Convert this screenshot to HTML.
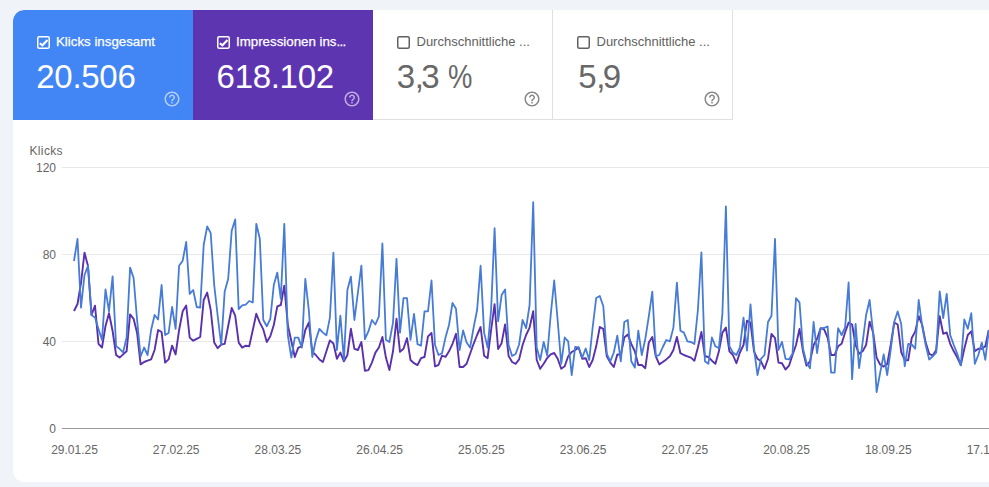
<!DOCTYPE html>
<html><head><meta charset="utf-8">
<style>
*{box-sizing:border-box;margin:0;padding:0}
html,body{width:989px;height:487px;overflow:hidden;background:#f0f3f8;font-family:"Liberation Sans",sans-serif}
.card{position:absolute;left:13px;top:10px;width:1000px;height:472px;background:#fff;border-radius:11px;overflow:hidden}
.tile{position:absolute;top:0;width:180px;height:110px}
.t1{left:0;background:#4285f4;color:#fff;border-top-left-radius:11px}
.t1 .num{left:23.3px;letter-spacing:-0.3px}
.t2 .num{left:23.6px;letter-spacing:-0.3px}
.t1 .lbl,.t2 .lbl{-webkit-text-stroke:0.25px #fff}
.t2{left:180px;background:#5e35b1;color:#fff}
.t3 .lbl,.t4 .lbl{left:43.5px;font-size:13px}
.t3 .num,.t4 .num{left:25.3px;color:#686868;letter-spacing:-0.5px}
.t3 .num{left:23.8px}
.t3{left:360px;border-right:1px solid #e0e0e0;border-bottom:1px solid #e0e0e0;color:#616161}
.t4{left:540px;border-right:1px solid #e0e0e0;border-bottom:1px solid #e0e0e0;color:#616161}
.cb{position:absolute;left:24px;top:26px;width:13px;height:13px}
.lbl{position:absolute;left:43px;top:24px;font-size:13.3px;line-height:16px;white-space:nowrap}
.num{position:absolute;left:23px;top:47px;font-size:33px;line-height:40px;white-space:nowrap}
.cm{letter-spacing:-2.5px}
.pc{display:inline-block;transform:scaleX(0.83);transform-origin:0 0}
.help{position:absolute;left:150px;top:80px;width:18px;height:18px}
svg.chart{position:absolute;left:0;top:0}
.ax{font-size:12px;fill:#666}
</style></head><body>
<div class="card">
  <div class="tile t1">
    <svg class="cb" viewBox="0 0 13 13"><rect x="0.75" y="0.75" width="11.5" height="11.5" rx="1.5" fill="none" stroke="currentColor" stroke-width="1.5"/><path d="M2.8 7.2 L5.4 9.3 L10.5 4" fill="none" stroke="currentColor" stroke-width="2.1"/></svg>
    <div class="lbl">Klicks insgesamt</div>
    <div class="num">20.506</div>
    <svg class="help" viewBox="0 0 24 24"><path fill="rgba(255,255,255,0.6)" d="M11 18h2v-2h-2v2zm1-16C6.48 2 2 6.48 2 12s4.48 10 10 10 10-4.48 10-10S17.52 2 12 2zm0 18c-4.41 0-8-3.59-8-8s3.59-8 8-8 8 3.59 8 8-3.59 8-8 8zm0-14c-2.21 0-4 1.79-4 4h2c0-1.1.9-2 2-2s2 .9 2 2c0 2-3 1.75-3 5h2c0-2.25 3-2.5 3-5 0-2.21-1.79-4-4-4z"/></svg>
  </div>
  <div class="tile t2">
    <svg class="cb" viewBox="0 0 13 13"><rect x="0.75" y="0.75" width="11.5" height="11.5" rx="1.5" fill="none" stroke="currentColor" stroke-width="1.5"/><path d="M2.8 7.2 L5.4 9.3 L10.5 4" fill="none" stroke="currentColor" stroke-width="2.1"/></svg>
    <div class="lbl">Impressionen ins<span style="letter-spacing:-0.7px">...</span></div>
    <div class="num">618.102</div>
    <svg class="help" viewBox="0 0 24 24"><path fill="rgba(255,255,255,0.6)" d="M11 18h2v-2h-2v2zm1-16C6.48 2 2 6.48 2 12s4.48 10 10 10 10-4.48 10-10S17.52 2 12 2zm0 18c-4.41 0-8-3.59-8-8s3.59-8 8-8 8 3.59 8 8-3.59 8-8 8zm0-14c-2.21 0-4 1.79-4 4h2c0-1.1.9-2 2-2s2 .9 2 2c0 2-3 1.75-3 5h2c0-2.25 3-2.5 3-5 0-2.21-1.79-4-4-4z"/></svg>
  </div>
  <div class="tile t3">
    <svg class="cb" viewBox="0 0 13 13"><rect x="0.75" y="0.75" width="11.5" height="11.5" rx="1.5" fill="none" stroke="currentColor" stroke-width="1.5"/></svg>
    <div class="lbl">Durchschnittliche ...</div>
    <div class="num">3<span class="cm">,</span>3 <span class="pc">%</span></div>
    <svg class="help" viewBox="0 0 24 24"><path fill="#888" d="M11 18h2v-2h-2v2zm1-16C6.48 2 2 6.48 2 12s4.48 10 10 10 10-4.48 10-10S17.52 2 12 2zm0 18c-4.41 0-8-3.59-8-8s3.59-8 8-8 8 3.59 8 8-3.59 8-8 8zm0-14c-2.21 0-4 1.79-4 4h2c0-1.1.9-2 2-2s2 .9 2 2c0 2-3 1.75-3 5h2c0-2.25 3-2.5 3-5 0-2.21-1.79-4-4-4z"/></svg>
  </div>
  <div class="tile t4">
    <svg class="cb" viewBox="0 0 13 13"><rect x="0.75" y="0.75" width="11.5" height="11.5" rx="1.5" fill="none" stroke="currentColor" stroke-width="1.5"/></svg>
    <div class="lbl">Durchschnittliche ...</div>
    <div class="num">5<span class="cm">,</span>9</div>
    <svg class="help" viewBox="0 0 24 24"><path fill="#888" d="M11 18h2v-2h-2v2zm1-16C6.48 2 2 6.48 2 12s4.48 10 10 10 10-4.48 10-10S17.52 2 12 2zm0 18c-4.41 0-8-3.59-8-8s3.59-8 8-8 8 3.59 8 8-3.59 8-8 8zm0-14c-2.21 0-4 1.79-4 4h2c0-1.1.9-2 2-2s2 .9 2 2c0 2-3 1.75-3 5h2c0-2.25 3-2.5 3-5 0-2.21-1.79-4-4-4z"/></svg>
  </div>
</div>
<svg class="chart" width="989" height="487" viewBox="0 0 989 487">
  <g stroke="#e8e8e8" stroke-width="1">
    <line x1="62" y1="167.5" x2="989" y2="167.5"/>
    <line x1="62" y1="254.5" x2="989" y2="254.5"/>
    <line x1="62" y1="341.5" x2="989" y2="341.5"/>
  </g>
  <line x1="62" y1="428.5" x2="989" y2="428.5" stroke="#9a9a9a" stroke-width="1"/>
  <text class="ax" x="29.5" y="155" letter-spacing="0.35">Klicks</text>
  <g class="ax" text-anchor="end">
    <text x="56" y="172">120</text>
    <text x="56" y="259">80</text>
    <text x="56" y="346">40</text>
    <text x="56" y="433">0</text>
  </g>
  <g class="ax" text-anchor="middle">
    <text x="74.5" y="454">29.01.25</text>
    <text x="176.2" y="454">27.02.25</text>
    <text x="277.9" y="454">28.03.25</text>
    <text x="379.7" y="454">26.04.25</text>
    <text x="481.4" y="454">25.05.25</text>
    <text x="583.1" y="454">23.06.25</text>
    <text x="684.8" y="454">22.07.25</text>
    <text x="786.5" y="454">20.08.25</text>
    <text x="888.3" y="454">18.09.25</text>
    <text x="990.0" y="454">17.10.25</text>
  </g>
  <path d="M74.0,311.0 L77.5,304.0 L81.0,283.0 L84.5,252.6 L88.0,266.0 L91.5,315.0 L95.0,305.7 L98.5,343.8 L102.0,347.5 L105.5,326.0 L109.0,313.2 L112.6,331.0 L116.1,355.0 L119.6,357.6 L123.1,354.4 L126.6,351.3 L130.1,314.4 L133.6,318.8 L137.1,333.0 L140.6,364.4 L144.1,362.0 L147.6,360.7 L151.1,359.4 L154.6,350.0 L158.1,330.0 L161.6,332.0 L165.1,362.6 L168.6,359.4 L172.1,345.6 L175.6,354.4 L179.1,330.0 L182.7,311.3 L186.2,305.5 L189.7,337.6 L193.2,340.7 L196.7,338.8 L200.2,337.0 L203.7,300.0 L207.2,292.6 L210.7,310.0 L214.2,342.6 L217.7,348.2 L221.2,344.5 L224.7,343.9 L228.2,326.0 L231.7,308.0 L235.2,315.7 L238.7,342.6 L242.2,347.6 L245.7,345.7 L249.2,346.4 L252.8,330.0 L256.3,313.8 L259.8,322.6 L263.3,329.4 L266.8,342.0 L270.3,336.3 L273.8,325.0 L277.3,306.3 L280.8,305.0 L284.3,285.7 L287.8,325.0 L291.3,341.0 L294.8,357.0 L298.3,347.6 L301.8,346.4 L305.3,330.0 L308.8,322.6 L312.3,352.0 L315.8,355.0 L319.4,359.4 L322.9,362.0 L326.4,351.3 L329.9,340.4 L333.4,343.5 L336.9,358.8 L340.4,352.6 L343.9,361.3 L347.4,355.0 L350.9,328.8 L354.4,348.8 L357.9,350.0 L361.4,342.0 L364.9,370.7 L368.4,370.1 L371.9,362.6 L375.4,352.6 L378.9,347.5 L382.4,337.0 L385.9,357.6 L389.4,370.1 L393.0,351.3 L396.5,318.8 L400.0,351.9 L403.5,348.8 L407.0,338.2 L410.5,360.0 L414.0,363.2 L417.5,365.1 L421.0,358.2 L424.5,357.0 L428.0,336.4 L431.5,333.0 L435.0,366.3 L438.5,365.0 L442.0,355.7 L445.5,356.9 L449.0,351.3 L452.5,343.8 L456.0,333.8 L459.6,367.0 L463.1,367.0 L466.6,363.8 L470.1,353.8 L473.6,343.8 L477.1,335.0 L480.6,327.0 L484.1,355.7 L487.6,358.2 L491.1,330.0 L494.6,304.2 L498.1,349.0 L501.6,343.2 L505.1,324.4 L508.6,356.0 L512.1,362.0 L515.6,363.8 L519.1,359.4 L522.6,345.0 L526.1,335.0 L529.6,327.6 L533.2,311.3 L536.7,360.0 L540.2,368.8 L543.7,363.8 L547.2,358.0 L550.7,354.4 L554.2,353.0 L557.7,358.8 L561.2,368.8 L564.7,366.3 L568.2,356.3 L571.7,352.0 L575.2,350.0 L578.7,347.5 L582.2,358.8 L585.7,358.2 L589.2,367.0 L592.7,360.0 L596.2,346.3 L599.8,327.0 L603.3,328.8 L606.8,356.3 L610.3,362.6 L613.8,367.0 L617.3,354.4 L620.8,355.0 L624.3,337.5 L627.8,334.5 L631.3,343.8 L634.8,351.3 L638.3,365.0 L641.8,365.0 L645.3,368.2 L648.8,342.5 L652.3,337.0 L655.8,356.3 L659.3,364.4 L662.8,362.0 L666.3,359.4 L669.9,356.3 L673.4,350.0 L676.9,337.0 L680.4,353.2 L683.9,355.0 L687.4,356.3 L690.9,357.6 L694.4,360.7 L697.9,347.5 L701.4,332.0 L704.9,356.3 L708.4,357.0 L711.9,360.7 L715.4,363.8 L718.9,351.3 L722.4,332.6 L725.9,327.6 L729.4,351.3 L732.9,355.0 L736.4,363.2 L739.9,352.5 L743.5,345.0 L747.0,320.7 L750.5,322.6 L754.0,351.3 L757.5,358.8 L761.0,361.3 L764.5,368.8 L768.0,358.8 L771.5,333.9 L775.0,338.0 L778.5,362.6 L782.0,363.2 L785.5,369.5 L789.0,365.7 L792.5,355.0 L796.0,345.0 L799.5,329.0 L803.0,351.3 L806.5,365.7 L810.0,361.3 L813.6,345.0 L817.1,338.8 L820.6,328.2 L824.1,329.4 L827.6,337.5 L831.1,355.0 L834.6,355.0 L838.1,346.3 L841.6,343.8 L845.1,332.5 L848.6,322.6 L852.1,324.5 L855.6,345.0 L859.1,353.8 L862.6,351.3 L866.1,345.0 L869.6,321.6 L873.1,332.5 L876.6,357.6 L880.1,364.5 L883.7,366.6 L887.2,364.0 L890.7,345.0 L894.2,322.6 L897.7,324.5 L901.2,352.0 L904.7,360.0 L908.2,360.4 L911.7,338.0 L915.2,331.6 L918.7,316.2 L922.2,325.0 L925.7,342.6 L929.2,353.8 L932.7,355.5 L936.2,350.0 L939.7,316.2 L943.2,333.8 L946.7,332.5 L950.2,343.8 L953.8,351.3 L957.3,357.6 L960.8,365.1 L964.3,348.8 L967.8,335.0 L971.3,331.3 L974.8,351.3 L978.3,348.8 L981.8,348.8 L985.3,346.3 L988.8,330.0" fill="none" stroke="#5a31ad" stroke-width="1.9" stroke-linejoin="round"/>
  <path d="M74.0,261.0 L77.5,239.0 L81.0,307.6 L84.5,275.0 L88.0,265.7 L91.5,315.0 L95.0,317.6 L98.5,329.0 L102.0,340.0 L105.5,289.4 L109.0,311.3 L112.6,276.4 L116.1,346.3 L119.6,348.8 L123.1,352.5 L126.6,337.5 L130.1,267.6 L133.6,278.0 L137.1,320.0 L140.6,356.3 L144.1,347.5 L147.6,355.0 L151.1,330.0 L154.6,315.0 L158.1,319.5 L161.6,285.0 L165.1,335.0 L168.6,333.0 L172.1,307.0 L175.6,328.9 L179.1,265.7 L182.7,260.7 L186.2,242.0 L189.7,293.9 L193.2,290.0 L196.7,307.0 L200.2,307.6 L203.7,245.0 L207.2,226.3 L210.7,233.2 L214.2,285.0 L217.7,316.0 L221.2,345.0 L224.7,291.4 L228.2,278.8 L231.7,230.7 L235.2,219.4 L238.7,309.0 L242.2,305.4 L245.7,304.7 L249.2,301.0 L252.8,302.5 L256.3,223.8 L259.8,238.8 L263.3,320.0 L266.8,326.3 L270.3,318.8 L273.8,285.0 L277.3,272.6 L280.8,298.9 L284.3,223.8 L287.8,335.0 L291.3,357.6 L294.8,337.6 L298.3,337.6 L301.8,347.6 L305.3,278.8 L308.8,310.0 L312.3,357.0 L315.8,340.0 L319.4,328.9 L322.9,332.6 L326.4,335.3 L329.9,317.6 L333.4,252.6 L336.9,350.0 L340.4,315.7 L343.9,360.0 L347.4,290.0 L350.9,276.6 L354.4,320.0 L357.9,292.5 L361.4,265.7 L364.9,339.2 L368.4,331.4 L371.9,320.0 L375.4,324.5 L378.9,316.3 L382.4,243.5 L385.9,339.8 L389.4,342.0 L393.0,322.6 L396.5,258.8 L400.0,332.6 L403.5,298.2 L407.0,298.2 L410.5,339.8 L414.0,313.8 L417.5,344.1 L421.0,345.7 L424.5,311.3 L428.0,311.3 L431.5,280.5 L435.0,345.0 L438.5,355.0 L442.0,353.2 L445.5,337.6 L449.0,325.0 L452.5,303.0 L456.0,308.8 L459.6,350.0 L463.1,330.5 L466.6,342.5 L470.1,347.6 L473.6,327.6 L477.1,310.0 L480.6,265.7 L484.1,332.6 L487.6,347.6 L491.1,310.0 L494.6,228.2 L498.1,321.3 L501.6,295.1 L505.1,289.5 L508.6,345.0 L512.1,356.0 L515.6,354.0 L519.1,344.5 L522.6,320.0 L526.1,328.2 L529.6,305.0 L533.2,202.2 L536.7,347.5 L540.2,360.0 L543.7,342.0 L547.2,355.5 L550.7,315.0 L554.2,280.5 L557.7,321.0 L561.2,363.8 L564.7,337.5 L568.2,341.3 L571.7,375.1 L575.2,346.9 L578.7,347.5 L582.2,357.6 L585.7,348.5 L589.2,360.0 L592.7,327.0 L596.2,298.0 L599.8,296.0 L603.3,306.3 L606.8,353.8 L610.3,361.3 L613.8,352.5 L617.3,335.7 L620.8,361.3 L624.3,322.0 L627.8,320.0 L631.3,361.3 L634.8,367.6 L638.3,330.7 L641.8,355.0 L645.3,338.9 L648.8,316.3 L652.3,291.6 L655.8,356.3 L659.3,355.0 L662.8,347.0 L666.3,340.0 L669.9,341.3 L673.4,327.6 L676.9,282.6 L680.4,330.7 L683.9,332.6 L687.4,341.4 L690.9,342.0 L694.4,344.0 L697.9,310.0 L701.4,252.3 L704.9,361.3 L708.4,363.8 L711.9,337.5 L715.4,346.3 L718.9,348.2 L722.4,313.8 L725.9,206.3 L729.4,346.3 L732.9,352.5 L736.4,355.0 L739.9,347.5 L743.5,317.6 L747.0,350.7 L750.5,304.4 L754.0,348.8 L757.5,375.1 L761.0,358.8 L764.5,355.0 L768.0,322.0 L771.5,315.7 L775.0,239.0 L778.5,350.0 L782.0,341.9 L785.5,358.8 L789.0,359.4 L792.5,353.8 L796.0,298.2 L799.5,302.3 L803.0,348.8 L806.5,362.6 L810.0,368.2 L813.6,322.0 L817.1,353.2 L820.6,328.5 L824.1,328.0 L827.6,326.4 L831.1,372.6 L834.6,372.6 L838.1,328.2 L841.6,335.0 L845.1,327.5 L848.6,282.5 L852.1,379.2 L855.6,323.9 L859.1,368.2 L862.6,342.6 L866.1,315.0 L869.6,300.0 L873.1,332.5 L876.6,392.0 L880.1,373.2 L883.7,354.4 L887.2,375.0 L890.7,350.0 L894.2,322.0 L897.7,311.4 L901.2,324.0 L904.7,366.3 L908.2,343.8 L911.7,344.4 L915.2,348.8 L918.7,300.0 L922.2,326.0 L925.7,345.0 L929.2,359.5 L932.7,356.3 L936.2,352.6 L939.7,291.3 L943.2,318.2 L946.7,293.8 L950.2,335.0 L953.8,345.0 L957.3,353.8 L960.8,365.4 L964.3,319.5 L967.8,328.8 L971.3,313.2 L974.8,363.8 L978.3,355.0 L981.8,342.6 L985.3,359.8 L988.8,330.0" fill="none" stroke="#467bd6" stroke-width="1.8" stroke-linejoin="round"/>
</svg>
</body></html>
